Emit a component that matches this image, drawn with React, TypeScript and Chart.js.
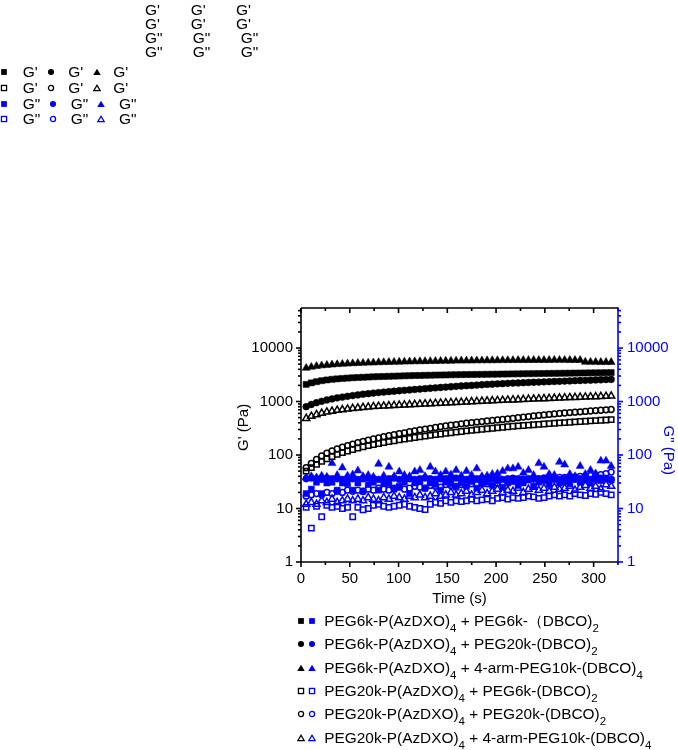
import React, { useEffect, useRef } from "react";
import { Chart, registerables } from "chart.js";
Chart.register(...registerables);

// ---------- data ----------
const times = [5.3, 10.6, 15.9, 21.2, 26.5, 31.8, 37.1, 42.4, 47.7, 53, 58.3, 63.6, 68.9, 74.2, 79.5, 84.8, 90.1, 95.4, 100.7, 106, 111.3, 116.6, 121.9, 127.2, 132.5, 137.8, 143.1, 148.4, 153.7, 159, 164.3, 169.6, 174.9, 180.2, 185.5, 190.8, 196.1, 201.4, 206.7, 212, 217.3, 222.6, 227.9, 233.2, 238.5, 243.8, 249.1, 254.4, 259.7, 265, 270.3, 275.6, 280.9, 286.2, 291.5, 296.8, 302.1, 307.4, 312.7, 318];

// G' (storage modulus)
const gp6k6k = [2090, 2230, 2350, 2450, 2530, 2600, 2650, 2700, 2740, 2780, 2810, 2840, 2870, 2900, 2920, 2940, 2960, 2980, 3000, 3020, 3040, 3060, 3070, 3090, 3100, 3120, 3130, 3140, 3160, 3170, 3180, 3190, 3200, 3210, 3220, 3230, 3240, 3250, 3260, 3270, 3280, 3290, 3300, 3310, 3320, 3330, 3340, 3350, 3360, 3370, 3380, 3390, 3400, 3410, 3420, 3430, 3440, 3450, 3460, 3470];
const gp6k20k = [800, 880, 950, 1010, 1070, 1120, 1170, 1210, 1250, 1290, 1330, 1370, 1400, 1440, 1470, 1500, 1530, 1560, 1590, 1620, 1650, 1680, 1710, 1740, 1770, 1800, 1830, 1860, 1890, 1920, 1950, 1980, 2000, 2030, 2060, 2090, 2110, 2140, 2160, 2190, 2210, 2230, 2250, 2270, 2290, 2310, 2330, 2350, 2370, 2390, 2410, 2430, 2450, 2470, 2490, 2510, 2530, 2550, 2570, 2590];
const gp6k4arm = [4230, 4420, 4580, 4700, 4800, 4880, 4960, 5030, 5090, 5150, 5200, 5250, 5290, 5330, 5370, 5410, 5450, 5480, 5510, 5540, 5570, 5600, 5620, 5640, 5660, 5690, 5710, 5730, 5750, 5770, 5790, 5800, 5820, 5830, 5850, 5860, 5870, 5880, 5890, 5900, 5910, 5920, 5920, 5930, 5940, 5940, 5950, 5950, 5960, 5960, 5960, 5950, 5950, 5940, 5500, 5480, 5470, 5460, 5450, 5450];
const gp20k6k = [50, 58, 67, 76, 85, 94, 103, 111, 119, 127, 135, 143, 150, 157, 164, 171, 178, 185, 192, 198, 205, 212, 219, 226, 233, 240, 247, 254, 261, 268, 275, 282, 289, 296, 303, 310, 317, 324, 331, 338, 344, 350, 356, 362, 368, 374, 380, 386, 392, 398, 404, 410, 416, 422, 428, 434, 440, 446, 452, 458];
const gp20k20k = [58, 70, 83, 96, 108, 119, 130, 140, 150, 160, 170, 180, 190, 200, 210, 220, 230, 240, 250, 260, 272, 283, 294, 305, 316, 327, 338, 349, 360, 371, 382, 392, 402, 412, 422, 432, 442, 452, 462, 472, 485, 498, 511, 524, 537, 550, 562, 574, 586, 598, 610, 621, 632, 643, 654, 665, 676, 687, 698, 709];
const gp20k4arm = [485, 530, 570, 605, 635, 660, 685, 705, 725, 745, 760, 775, 790, 805, 815, 825, 835, 845, 855, 865, 875, 885, 895, 905, 915, 925, 935, 945, 955, 965, 975, 985, 995, 1005, 1015, 1025, 1035, 1045, 1055, 1065, 1075, 1085, 1095, 1105, 1115, 1125, 1135, 1145, 1155, 1165, 1175, 1185, 1195, 1205, 1215, 1225, 1235, 1245, 1255, 1265];

// G" (loss modulus)
const gpp6k6k = [19, 23, 31, 19, 30, 31, 22, 30, 29, 22, 30, 21, 28, 31, 22, 30, 29, 23, 26, 31, 19, 30, 32, 24, 30, 28, 22, 31, 29, 25, 30, 26, 32, 24, 29, 31, 27, 33, 25, 30, 32, 27, 30, 34, 26, 31, 33, 28, 35, 30, 32, 29, 36, 31, 34, 30, 35, 33, 37, 34];
const gpp6k20k = [36, 37, 36, 35, 37, 36, 36, 35, 37, 36, 35, 36, 37, 36, 35, 36, 36, 37, 35, 36, 36, 35, 36, 37, 36, 35, 36, 36, 35, 37, 36, 35, 36, 36, 37, 35, 36, 36, 35, 36, 37, 36, 35, 36, 36, 35, 37, 36, 36, 35, 36, 37, 35, 36, 36, 35, 36, 37, 36, 35];
const gpp6k4arm = [38, 40, 38, 41, 39, 70, 42, 58, 41, 43, 51, 40, 42, 39, 68, 41, 60, 40, 49, 42, 40, 49, 52, 40, 60, 49, 42, 49, 43, 52, 41, 50, 42, 56, 40, 41, 44, 45, 50, 56, 56, 60, 46, 52, 42, 70, 60, 44, 42, 74, 66, 44, 40, 62, 44, 52, 45, 78, 78, 62];
const gpp20k6k = [10.5, 4.3, 11, 7, 11.5, 10.5, 11, 10, 10.5, 7, 10.5, 9.5, 10, 11.5, 12, 11, 10.5, 11, 11.5, 12, 11, 10.5, 10, 9.6, 12, 13, 12.5, 14, 13, 14, 13.5, 14, 15, 14, 14.5, 15, 14, 15.5, 16, 15, 16, 15.5, 16, 17, 16.5, 15.5, 16, 17, 18, 17, 18, 17, 19, 18, 17.5, 19, 18.5, 20, 19, 18];
const gpp20k20k = [17, 18, 19, 18, 20, 19, 21, 20, 22, 21, 22, 21, 23, 22, 24, 23, 22, 24, 25, 23, 24, 26, 25, 24, 27, 26, 25, 28, 27, 26, 28, 27, 29, 28, 30, 29, 31, 30, 29, 32, 33, 34, 35, 35, 36, 36, 37, 37, 38, 38, 38, 39, 39, 40, 40, 41, 42, 43, 45, 48];
const gpp20k4arm = [12, 13, 12, 14, 13, 15, 13, 14, 15, 14, 15, 14, 16, 15, 14, 16, 15, 17, 16, 15, 17, 16, 18, 16, 17, 19, 17, 18, 20, 18, 19, 21, 18, 20, 22, 19, 21, 23, 20, 22, 21, 24, 20, 23, 25, 22, 24, 21, 25, 23, 24, 26, 22, 25, 27, 24, 26, 23, 28, 26];

const xTickValues = [0, 50, 100, 150, 200, 250, 300];
const yTickValues = [1, 10, 100, 1000, 10000];
const xMin = 0, xMax = 325, yMin = 1, yMax = 56000;

const legendEntries = [
  { shape: "square", filled: true, parts: ["PEG6k-P(AzDXO)", "4", " + PEG6k-（DBCO)", "2"] },
  { shape: "circle", filled: true, parts: ["PEG6k-P(AzDXO)", "4", " + PEG20k-(DBCO)", "2"] },
  { shape: "triangle", filled: true, parts: ["PEG6k-P(AzDXO)", "4", " + 4-arm-PEG10k-(DBCO)", "4"] },
  { shape: "square", filled: false, parts: ["PEG20k-P(AzDXO)", "4", " + PEG6k-(DBCO)", "2"] },
  { shape: "circle", filled: false, parts: ["PEG20k-P(AzDXO)", "4", " + PEG20k-(DBCO)", "2"] },
  { shape: "triangle", filled: false, parts: ["PEG20k-P(AzDXO)", "4", " + 4-arm-PEG10k-(DBCO)", "4"] },
];

const BLUE = "#0000ff";
const FONT = '"Liberation Sans", Arial, Helvetica, sans-serif';

type Shape = "square" | "circle" | "triangle";

function styleFor(shape: Shape) {
  if (shape === "square") return { pointStyle: "rect", r: 4.3 };
  if (shape === "circle") return { pointStyle: "circle", r: 3.4 };
  return { pointStyle: "triangle", r: 4.6 };
}

function makeDataset(label: string, values: number[], shape: Shape, filled: boolean, color: string, axis: string) {
  const s = styleFor(shape);
  return {
    label,
    data: times.map((t, i) => ({ x: t, y: values[i] })),
    yAxisID: axis,
    showLine: false,
    pointStyle: s.pointStyle,
    pointRadius: filled ? s.r : s.r - 0.5,
    pointBackgroundColor: filled ? color : "rgba(0,0,0,0)",
    pointBorderColor: color,
    pointBorderWidth: filled ? 0.5 : 1.5,
    pointHoverRadius: s.r,
  };
}

const framePlugin = {
  id: "frame",
  afterDraw(chart: any) {
    const { ctx, chartArea } = chart;
    const { left, right, top, bottom } = chartArea;
    const xs = chart.scales.x;
    const ys = chart.scales.y;
    const line = (x1: number, y1: number, x2: number, y2: number) => {
      ctx.beginPath();
      ctx.moveTo(x1, y1);
      ctx.lineTo(x2, y2);
      ctx.stroke();
    };
    ctx.save();
    ctx.lineWidth = 1.6;
    ctx.strokeStyle = "#000";
    // x ticks (bottom outward, top inward)
    for (let v = 0; v <= xMax; v += 25) {
      const px = xs.getPixelForValue(v);
      const len = v % 50 === 0 ? 5 : 3;
      line(px, bottom, px, bottom + len);
      line(px, top, px, top + len);
    }
    // log ticks
    const logVals: { v: number; major: boolean }[] = [];
    for (let d = 0; d <= 4; d++) {
      for (let m = 1; m <= 9; m++) {
        const v = m * Math.pow(10, d);
        if (v <= yMax) logVals.push({ v, major: m === 1 });
      }
    }
    logVals.forEach(({ v, major }) => {
      const py = ys.getPixelForValue(v);
      line(left, py, left - (major ? 5 : 3), py);
    });
    line(left, top, left, bottom);
    line(left, bottom, right, bottom);
    line(left, top, right, top);
    ctx.strokeStyle = BLUE;
    logVals.forEach(({ v, major }) => {
      const py = ys.getPixelForValue(v);
      line(right, py, right + (major ? 5 : 3), py);
    });
    line(right, top - 0.8, right, bottom + 0.8);

    // axis titles
    ctx.font = `15px ${FONT}`;
    ctx.textAlign = "center";
    ctx.textBaseline = "middle";
    ctx.fillStyle = "#000";
    ctx.fillText("Time (s)", (left + right) / 2, bottom + 37);
    ctx.save();
    ctx.translate(left - 57, top + (bottom - top) * 0.47);
    ctx.rotate(-Math.PI / 2);
    ctx.fillText("G' (Pa)", 0, 0);
    ctx.restore();
    ctx.save();
    ctx.fillStyle = BLUE;
    ctx.translate(right + 50, top + (bottom - top) * 0.56);
    ctx.rotate(Math.PI / 2);
    ctx.fillText('G" (Pa)', 0, 0);
    ctx.restore();
    ctx.restore();
  },
};

function Marker({ shape, filled, color, size }: { shape: Shape; filled: boolean; color: string; size: number }) {
  const s = size;
  const sw = 1.3;
  let el: any;
  if (shape === "square") {
    el = filled ? (
      <rect x={s / 2 - s * 0.36} y={s / 2 - s * 0.36} width={s * 0.72} height={s * 0.72} fill={color} />
    ) : (
      <rect x={s / 2 - s * 0.32} y={s / 2 - s * 0.32} width={s * 0.64} height={s * 0.64} fill="none" stroke={color} strokeWidth={sw} />
    );
  } else if (shape === "circle") {
    el = filled ? (
      <circle cx={s / 2} cy={s / 2} r={s * 0.38} fill={color} />
    ) : (
      <circle cx={s / 2} cy={s / 2} r={s * 0.32} fill="none" stroke={color} strokeWidth={sw} />
    );
  } else {
    const pts = filled
      ? `${s / 2},${s * 0.08} ${s * 0.03},${s * 0.88} ${s * 0.97},${s * 0.88}`
      : `${s / 2},${s * 0.16} ${s * 0.1},${s * 0.82} ${s * 0.9},${s * 0.82}`;
    el = <polygon points={pts} fill={filled ? color : "none"} stroke={filled ? "none" : color} strokeWidth={sw} />;
  }
  return (
    <svg width={s} height={s} style={{ display: "block" }}>
      {el}
    </svg>
  );
}

function abs(left: number, top: number, extra: any = {}) {
  return { position: "absolute" as const, left, top, ...extra };
}

export default function App() {
  const ref = useRef<HTMLCanvasElement | null>(null);
  useEffect(() => {
    if (!ref.current) return;
    const datasets = [
      makeDataset("G' PEG6k/PEG6k", gp6k6k, "square", true, "#000", "y"),
      makeDataset("G' PEG6k/PEG20k", gp6k20k, "circle", true, "#000", "y"),
      makeDataset("G' PEG6k/4-arm", gp6k4arm, "triangle", true, "#000", "y"),
      makeDataset("G' PEG20k/PEG6k", gp20k6k, "square", false, "#000", "y"),
      makeDataset("G' PEG20k/PEG20k", gp20k20k, "circle", false, "#000", "y"),
      makeDataset("G' PEG20k/4-arm", gp20k4arm, "triangle", false, "#000", "y"),
      makeDataset('G" PEG6k/PEG6k', gpp6k6k, "square", true, BLUE, "y2"),
      makeDataset('G" PEG6k/PEG20k', gpp6k20k, "circle", true, BLUE, "y2"),
      makeDataset('G" PEG6k/4-arm', gpp6k4arm, "triangle", true, BLUE, "y2"),
      makeDataset('G" PEG20k/PEG6k', gpp20k6k, "square", false, BLUE, "y2"),
      makeDataset('G" PEG20k/PEG20k', gpp20k20k, "circle", false, BLUE, "y2"),
      makeDataset('G" PEG20k/4-arm', gpp20k4arm, "triangle", false, BLUE, "y2"),
    ];
    const tickFont = { family: FONT, size: 15 };
    const chart = new Chart(ref.current, {
      type: "scatter",
      data: { datasets: datasets as any },
      options: {
        animation: false,
        responsive: false,
        devicePixelRatio: 1,
        events: [],
        layout: { padding: { left: 241, right: 0, top: 308, bottom: 138 } },
        plugins: { legend: { display: false }, tooltip: { enabled: false }, title: { display: false } },
        scales: {
          x: {
            type: "linear",
            position: "bottom",
            min: xMin,
            max: xMax,
            grid: { display: false, drawTicks: false },
            border: { display: false },
            afterBuildTicks: (s: any) => {
              s.ticks = xTickValues.map((v) => ({ value: v }));
            },
            afterFit: (s: any) => {
              s.height = 50;
            },
            ticks: { autoSkip: false, maxRotation: 0, padding: 8, color: "#000", font: tickFont, callback: (v: any) => String(v) },
          },
          y: {
            type: "logarithmic",
            position: "left",
            min: yMin,
            max: yMax,
            grid: { display: false, drawTicks: false },
            border: { display: false },
            afterBuildTicks: (s: any) => {
              s.ticks = yTickValues.map((v) => ({ value: v }));
            },
            afterFit: (s: any) => {
              s.width = 60;
            },
            ticks: { autoSkip: false, padding: 8, color: "#000", font: tickFont, callback: (v: any) => String(v) },
          },
          y2: {
            type: "logarithmic",
            position: "right",
            min: yMin,
            max: yMax,
            grid: { display: false, drawTicks: false },
            border: { display: false },
            afterBuildTicks: (s: any) => {
              s.ticks = yTickValues.map((v) => ({ value: v }));
            },
            afterFit: (s: any) => {
              s.width = 60;
            },
            ticks: { autoSkip: false, padding: 9, color: BLUE, font: tickFont, callback: (v: any) => String(v) },
          },
        },
      },
      plugins: [framePlugin],
    } as any);
    return () => chart.destroy();
  }, []);

  const fragFont = { fontFamily: FONT, fontSize: 15.5, lineHeight: "18px", color: "#000", whiteSpace: "pre" as const };
  const topCols1 = [145, 190.7, 236];
  const topCols2 = [145, 192.7, 240.7];
  const topRows = [10, 24, 38, 52];
  const sideRows = [72, 88, 104, 119];
  const sideShapes: Shape[] = ["square", "circle", "triangle"];

  return (
    <div style={{ position: "absolute", left: 0, top: 0, width: 678, height: 750 }}>
      <canvas ref={ref} width={678} height={750} style={{ position: "absolute", left: 0, top: 0, width: 678, height: 750 }} />
      {topRows.map((y, ri) =>
        (ri < 2 ? topCols1 : topCols2).map((x, ci) => (
          <div key={`t${ri}-${ci}`} style={abs(x, y - 9, fragFont)}>
            {ri < 2 ? "G'" : 'G"'}
          </div>
        ))
      )}
      {sideRows.map((y, ri) => {
        const filled = ri % 2 === 0;
        const color = ri < 2 ? "#000" : BLUE;
        const isPP = ri >= 2;
        const markerX = isPP ? [4, 52.5, 100.5] : [4, 50.5, 96.5];
        const textX = isPP ? [22.7, 70.7, 119] : [22.7, 68.3, 113.3];
        return sideShapes.map((shape, ci) => (
          <React.Fragment key={`s${ri}-${ci}`}>
            <div style={abs(markerX[ci] - 4, y - 4)}>
              <Marker shape={shape} filled={filled} color={color} size={8} />
            </div>
            <div style={abs(textX[ci], y - 9, fragFont)}>{isPP ? 'G"' : "G'"}</div>
          </React.Fragment>
        ));
      })}
      {legendEntries.map((e, i) => {
        const cy = 621 + i * 23.3;
        return (
          <React.Fragment key={`l${i}`}>
            <div style={abs(300.7 - 4, cy - 4)}>
              <Marker shape={e.shape as Shape} filled={e.filled} color="#000" size={8} />
            </div>
            <div style={abs(312.3 - 4, cy - 4)}>
              <Marker shape={e.shape as Shape} filled={e.filled} color={BLUE} size={8} />
            </div>
            <div style={abs(324.3, cy - 10, { fontFamily: FONT, fontSize: 15.4, lineHeight: "20px", color: "#000", whiteSpace: "pre" })}>
              {e.parts[0]}
              <span style={{ fontSize: 11.5, position: "relative", top: 6 }}>{e.parts[1]}</span>
              {e.parts[2]}
              <span style={{ fontSize: 11.5, position: "relative", top: 6 }}>{e.parts[3]}</span>
            </div>
          </React.Fragment>
        );
      })}
    </div>
  );
}
